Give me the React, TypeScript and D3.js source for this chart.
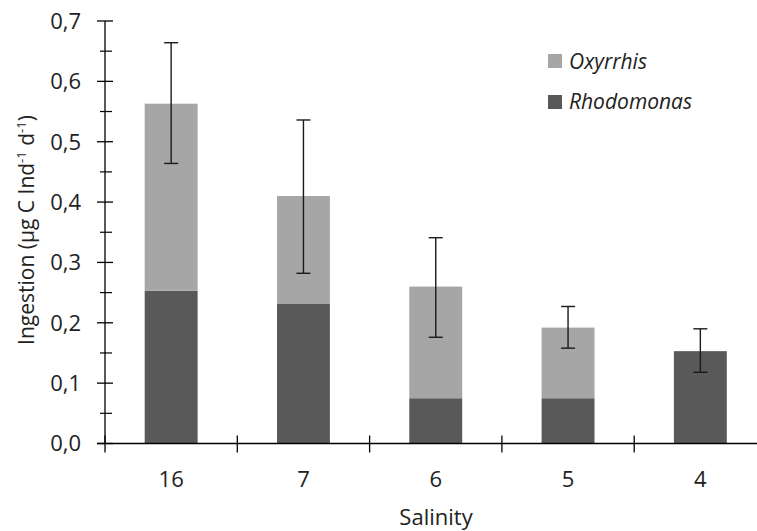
import React from "react";
import * as d3 from "d3";

// Salinity treatments along the x axis
const salinity = ["16", "7", "6", "5", "4"];
// Ingestion (µg C Ind-1 d-1) per prey type
const rhodomonas = [0.253, 0.232, 0.075, 0.075, 0.153];
const oxyrrhis = [0.31, 0.178, 0.185, 0.117, 0.0];
// Error bar bounds around the total ingestion
const errLow = [0.464, 0.282, 0.176, 0.158, 0.118];
const errHigh = [0.664, 0.536, 0.341, 0.227, 0.19];
const yTicks = [0, 0.1, 0.2, 0.3, 0.4, 0.5, 0.6, 0.7];
const yMinorTicks = [0.05, 0.15, 0.25, 0.35, 0.45, 0.55, 0.65];

const W = 757;
const H = 531;
const FONT = "'Open Sans', Lato, sans-serif";
const DARK = "#595959";
const LIGHT = "#a6a6a6";
const TEXT = "#222";

export default function App() {
  const x = d3
    .scaleBand<string>()
    .domain(salinity)
    .range([105, 766.5])
    .paddingInner(0.6)
    .paddingOuter(0.3);
  const y = d3.scaleLinear().domain([0, 0.7]).range([443.5, 21]);
  const step = x.step();
  const axisX0 = 105;
  const y0 = y(0);
  const fmt = (v: number) => v.toFixed(1).replace(".", ",");

  const rows = salinity.map((s, i) => ({
    s,
    rho: rhodomonas[i],
    oxy: oxyrrhis[i],
    lo: errLow[i],
    hi: errHigh[i],
  }));

  return (
    <svg
      width={W}
      height={H}
      style={{ position: "absolute", left: 0, top: 0, background: "#fff" }}
      fontFamily={FONT}
    >
      {/* stacked bars */}
      {rows.map((d) => (
        <g key={d.s}>
          <rect
            x={x(d.s)}
            y={y(d.rho)}
            width={x.bandwidth()}
            height={y0 - y(d.rho)}
            fill={DARK}
          />
          {d.oxy > 0 && (
            <rect
              x={x(d.s)}
              y={y(d.rho + d.oxy)}
              width={x.bandwidth()}
              height={y(d.rho) - y(d.rho + d.oxy)}
              fill={LIGHT}
            />
          )}
        </g>
      ))}

      {/* error bars */}
      {rows.map((d) => {
        const cx = (x(d.s) as number) + x.bandwidth() / 2;
        return (
          <g key={"e" + d.s} stroke="#1a1a1a" strokeWidth={1.4}>
            <line x1={cx} x2={cx} y1={y(d.lo)} y2={y(d.hi)} />
            <line x1={cx - 7} x2={cx + 7} y1={y(d.lo)} y2={y(d.lo)} />
            <line x1={cx - 7} x2={cx + 7} y1={y(d.hi)} y2={y(d.hi)} />
          </g>
        );
      })}

      {/* y axis */}
      <line x1={axisX0} x2={axisX0} y1={y(0.7)} y2={y0} stroke="#000" strokeWidth={1.3} />
      {yTicks.map((t) => (
        <g key={"yt" + t}>
          <line x1={axisX0 - 8} x2={axisX0 + 8} y1={y(t)} y2={y(t)} stroke="#000" strokeWidth={1.3} />
          <text
            x={81}
            y={y(t)}
            dy="0.36em"
            textAnchor="end"
            fontSize={22}
            fill={TEXT}
          >
            {fmt(t)}
          </text>
        </g>
      ))}
      {yMinorTicks.map((t) => (
        <line
          key={"ym" + t}
          x1={axisX0 - 5}
          x2={axisX0 + 7}
          y1={y(t)}
          y2={y(t)}
          stroke="#000"
          strokeWidth={1.2}
        />
      ))}

      {/* x axis */}
      <line x1={axisX0 - 8} x2={W + 10} y1={y0} y2={y0} stroke="#000" strokeWidth={1.3} />
      {salinity.map((s, i) => {
        const tx = axisX0 + step * i;
        return (
          <line key={"xt" + s} x1={tx} x2={tx} y1={y0 - 8} y2={y0 + 9} stroke="#000" strokeWidth={1.3} />
        );
      })}
      {salinity.map((s) => (
        <text
          key={"xl" + s}
          x={(x(s) as number) + x.bandwidth() / 2}
          y={479}
          dy="0.36em"
          textAnchor="middle"
          fontSize={22}
          fill={TEXT}
        >
          {s}
        </text>
      ))}

      {/* axis titles */}
      <text x={436} y={525} textAnchor="middle" fontSize={22} fill={TEXT}>
        Salinity
      </text>
      <text
        transform={`translate(26, 230) rotate(-90)`}
        textAnchor="middle"
        dy="0.36em"
        fontSize={21}
        fill={TEXT}
      >
        Ingestion (µg C Ind
        <tspan fontSize={13} dy="-8">-1</tspan>
        <tspan dy="8"> d</tspan>
        <tspan fontSize={13} dy="-8">-1</tspan>
        <tspan dy="8">)</tspan>
      </text>

      {/* legend */}
      <rect x={548} y={54} width={14} height={14} fill={LIGHT} />
      <text x={569} y={69} fontSize={21} fontStyle="italic" fill={TEXT}>
        Oxyrrhis
      </text>
      <rect x={548} y={95} width={14} height={14} fill={DARK} />
      <text x={569} y={109} fontSize={21} fontStyle="italic" fill={TEXT}>
        Rhodomonas
      </text>
    </svg>
  );
}
